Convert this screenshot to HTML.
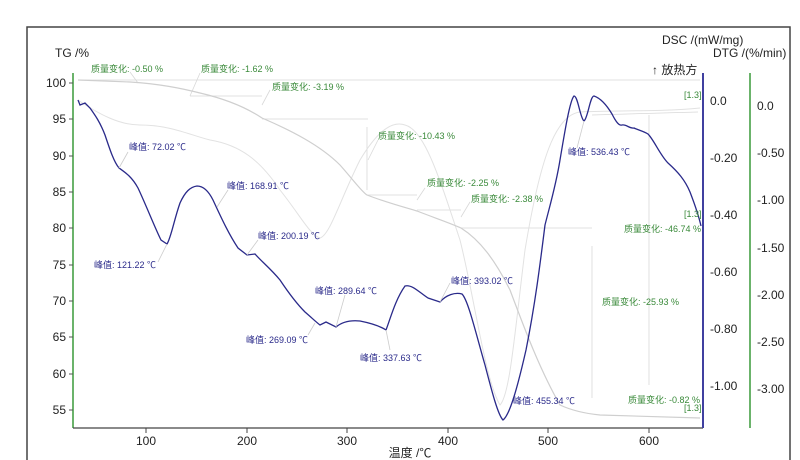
<!DOCTYPE html>
<html><head><meta charset="utf-8"><style>
body{margin:0;background:#fff;}
svg{display:block;font-family:"Liberation Sans","Noto Sans CJK SC",sans-serif;}
.g{fill:#3a8a3a;font-size:9px}
.b{fill:#2a2a8a;font-size:9px}
.t{fill:#222;font-size:12px}
</style></head><body>
<svg width="800" height="460" viewBox="0 0 800 460">
<rect x="27" y="27" width="763" height="440" fill="#fff" stroke="#444" stroke-width="1.5"/>
<text x="55" y="57" class="t">TG /%</text>
<text x="662" y="44" class="t">DSC /(mW/mg)</text>
<text x="713" y="57" class="t">DTG /(%/min)</text>
<text x="652" y="74" class="t">↑ 放热方</text>
<line x1="73" y1="73" x2="73" y2="428" stroke="#3a9a3a" stroke-width="1.5"/>
<g>
<text x="66" y="87" class="t" text-anchor="end">100</text><text x="66" y="123" class="t" text-anchor="end">95</text><text x="66" y="160" class="t" text-anchor="end">90</text><text x="66" y="196" class="t" text-anchor="end">85</text><text x="66" y="232" class="t" text-anchor="end">80</text><text x="66" y="269" class="t" text-anchor="end">75</text><text x="66" y="305" class="t" text-anchor="end">70</text><text x="66" y="341" class="t" text-anchor="end">65</text><text x="66" y="378" class="t" text-anchor="end">60</text><text x="66" y="414" class="t" text-anchor="end">55</text>
</g>
<g stroke="#555">
<line x1="69" y1="83" x2="73" y2="83"/><line x1="69" y1="119" x2="73" y2="119"/><line x1="69" y1="156" x2="73" y2="156"/><line x1="69" y1="192" x2="73" y2="192"/><line x1="69" y1="228" x2="73" y2="228"/><line x1="69" y1="265" x2="73" y2="265"/><line x1="69" y1="301" x2="73" y2="301"/><line x1="69" y1="337" x2="73" y2="337"/><line x1="69" y1="374" x2="73" y2="374"/><line x1="69" y1="410" x2="73" y2="410"/>
</g>
<line x1="73" y1="428" x2="703" y2="428" stroke="#444" stroke-width="1.2"/>
<g stroke="#444">
<line x1="146" y1="428" x2="146" y2="433"/><line x1="247" y1="428" x2="247" y2="433"/><line x1="347" y1="428" x2="347" y2="433"/><line x1="448" y1="428" x2="448" y2="433"/><line x1="548" y1="428" x2="548" y2="433"/><line x1="649" y1="428" x2="649" y2="433"/>
</g>
<g>
<text x="146" y="445" class="t" text-anchor="middle">100</text><text x="247" y="445" class="t" text-anchor="middle">200</text><text x="347" y="445" class="t" text-anchor="middle">300</text><text x="448" y="445" class="t" text-anchor="middle">400</text><text x="548" y="445" class="t" text-anchor="middle">500</text><text x="649" y="445" class="t" text-anchor="middle">600</text>
</g>
<text x="410" y="457" class="t" text-anchor="middle">温度 /℃</text>
<line x1="703" y1="73" x2="703" y2="428" stroke="#4040a0" stroke-width="2"/>
<g>
<text x="710" y="105" class="t">0.0</text><text x="710" y="162" class="t">-0.20</text><text x="710" y="219" class="t">-0.40</text><text x="710" y="276" class="t">-0.60</text><text x="710" y="333" class="t">-0.80</text><text x="710" y="390" class="t">-1.00</text>
</g>
<line x1="750" y1="73" x2="750" y2="428" stroke="#3a9a3a" stroke-width="1.5"/>
<g>
<text x="757" y="110" class="t">0.0</text><text x="757" y="157" class="t">-0.50</text><text x="757" y="204" class="t">-1.00</text><text x="757" y="252" class="t">-1.50</text><text x="757" y="299" class="t">-2.00</text><text x="757" y="346" class="t">-2.50</text><text x="757" y="393" class="t">-3.00</text>
</g>
<g stroke="#d8d8d8" stroke-width="0.8" fill="none">
<line x1="78" y1="80" x2="700" y2="80"/>
<line x1="190" y1="96" x2="262" y2="96"/>
<line x1="262" y1="119" x2="368" y2="119"/>
<line x1="367" y1="127" x2="367" y2="190"/>
<line x1="367" y1="195" x2="417" y2="195"/>
<line x1="417" y1="210" x2="461" y2="210"/>
<line x1="461" y1="228" x2="592" y2="228"/>
<line x1="592" y1="246" x2="592" y2="398"/>
<line x1="649" y1="115" x2="649" y2="385"/>
<line x1="592" y1="115" x2="698" y2="112"/>
<line x1="138" y1="83" x2="130" y2="72"/>
<line x1="190" y1="96" x2="200" y2="73"/>
<line x1="262" y1="105" x2="270" y2="90"/>
<line x1="368" y1="160" x2="378" y2="140"/>
<line x1="417" y1="200" x2="425" y2="188"/>
<line x1="461" y1="217" x2="470" y2="202"/>
</g>
<path d="M78,100 C100,115 120,125 140,125 C170,125 190,135 210,140 C240,145 260,160 280,190 C300,215 310,235 320,238 C330,235 340,200 360,160 C375,135 390,120 405,125 C425,130 440,180 460,240 C475,300 485,380 500,405 C510,395 515,330 525,250 C540,160 555,115 580,112 C620,110 660,112 700,108" fill="none" stroke="#e2e2e2" stroke-width="1"/>
<path d="M78,80 L130,82 C160,84 180,88 200,93 C230,100 250,110 262,118 C290,130 320,145 340,165 C355,182 362,192 367,195 C385,202 400,206 417,211 C435,218 450,223 461,228 C480,240 495,260 510,290 C525,330 540,370 560,405 C575,412 590,414 600,415 L700,418" fill="none" stroke="#cfcfcf" stroke-width="1.2"/>
<path d="M78,100 L80,105 L85,103 L90,108 C95,115 100,122 105,135 C110,150 114,162 119,168 C126,173 132,177 138,188 C146,205 155,228 161,240 L167,244 C171,238 174,220 180,203 C185,192 190,187 197,186 C203,186 208,190 213,200 C220,215 228,233 238,248 L247,255 L255,254 C262,262 270,268 280,280 C290,295 298,305 305,312 C312,318 316,322 320,325 L326,322 L336,327 C342,322 350,320 360,321 C370,323 380,326 386,330 C390,320 395,300 405,286 C412,284 420,293 428,298 L440,302 C446,295 455,292 462,294 C468,300 475,330 485,365 C492,392 498,415 503,420 C510,415 518,385 526,350 C535,305 540,265 545,225 C550,205 556,185 560,160 C565,130 570,100 574,96 C578,96 580,118 584,121 C588,118 590,96 594,96 C600,98 606,104 612,114 C616,122 619,126 622,125 C626,124 630,129 634,128 C638,130 643,131 648,134 C654,140 660,155 668,163 C678,172 685,180 690,192 C695,205 699,217 701,226" fill="none" stroke="#2a2a8a" stroke-width="1.3"/>
<g stroke="#ccc" stroke-width="0.8">
<line x1="119" y1="168" x2="128" y2="152"/><line x1="167" y1="244" x2="158" y2="262"/><line x1="217" y1="207" x2="228" y2="190"/><line x1="247" y1="255" x2="258" y2="240"/><line x1="315" y1="323" x2="308" y2="335"/><line x1="336" y1="327" x2="345" y2="295"/><line x1="386" y1="330" x2="390" y2="350"/><line x1="440" y1="302" x2="450" y2="283"/><line x1="584" y1="121" x2="577" y2="148"/></g>
<text x="91" y="72" class="g">质量变化: -0.50 %</text>
<text x="201" y="72" class="g">质量变化: -1.62 %</text>
<text x="272" y="90" class="g">质量变化: -3.19 %</text>
<text x="378" y="139" class="g">质量变化: -10.43 %</text>
<text x="427" y="186" class="g">质量变化: -2.25 %</text>
<text x="471" y="202" class="g">质量变化: -2.38 %</text>
<text x="624" y="232" class="g">质量变化: -46.74 %</text>
<text x="602" y="305" class="g">质量变化: -25.93 %</text>
<text x="628" y="403" class="g">质量变化: -0.82 %</text>
<text x="684" y="98" class="g" font-size="7">[1.3]</text>
<text x="684" y="217" class="g" font-size="7">[1.3]</text>
<text x="684" y="411" class="g" font-size="7">[1.3]</text>
<text x="129" y="150" class="b">峰值: 72.02 ℃</text>
<text x="94" y="268" class="b">峰值: 121.22 ℃</text>
<text x="227" y="189" class="b">峰值: 168.91 ℃</text>
<text x="258" y="239" class="b">峰值: 200.19 ℃</text>
<text x="315" y="294" class="b">峰值: 289.64 ℃</text>
<text x="246" y="343" class="b">峰值: 269.09 ℃</text>
<text x="360" y="361" class="b">峰值: 337.63 ℃</text>
<text x="451" y="284" class="b">峰值: 393.02 ℃</text>
<text x="513" y="404" class="b">峰值: 455.34 ℃</text>
<text x="568" y="155" class="b">峰值: 536.43 ℃</text>
</svg>
</body></html>
